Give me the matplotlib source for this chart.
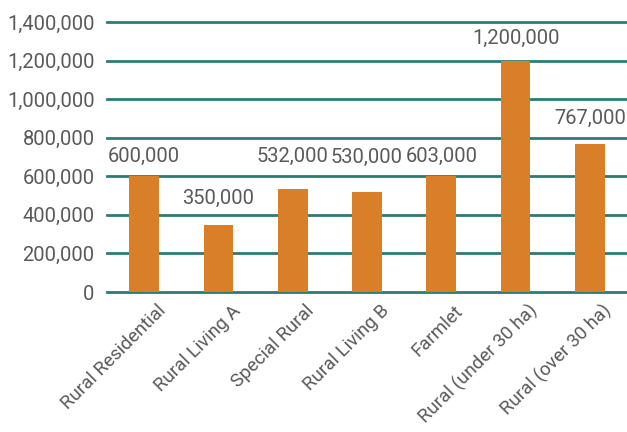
import matplotlib.pyplot as plt
from matplotlib.ticker import FuncFormatter
from matplotlib.transforms import ScaledTranslation

categories = ["Rural Residential", "Rural Living A", "Special Rural", "Rural Living B",
              "Farmlet", "Rural (under 30 ha)", "Rural (over 30 ha)"]
values = [600000, 350000, 532000, 520000, 603000, 1200000, 767000]
labels = ["600,000", "350,000", "532,000", "530,000", "603,000", "1,200,000", "767,000"]
yticks = [0, 200000, 400000, 600000, 800000, 1000000, 1200000, 1400000]

# gap (px) between bar top and its label, as placed in the original
label_gap = [10, 17, 23, 25, 10, 13, 16]

bar_col = "#D97F28"
grid_col = "#2E7B72"
text_col = "#595959"

plt.rcParams['font.family'] = ['Roboto', 'DejaVu Sans']

fig = plt.figure(figsize=(6.27, 4.32), dpi=100)
ax = fig.add_axes([107/627, 1 - 292/432, 1 - 107/627, 270/432])

x = range(len(categories))
bars = ax.bar(x, values, width=0.4, color=bar_col, zorder=3)

# data labels above each bar
for b, lab, g in zip(bars, labels, label_gap):
    ax.annotate(lab, (b.get_x() + b.get_width()/2, b.get_height()),
                xytext=(0, g * 0.72), textcoords="offset points",
                ha="center", va="bottom", fontsize=14.5, color=text_col)

ax.set_ylim(0, 1400000)
ax.set_xlim(-0.5, len(categories) - 0.5)
ax.set_yticks(yticks)
ax.yaxis.set_major_formatter(FuncFormatter(lambda v, p: f"{int(v):,}"))
for y in yticks:
    ax.axhline(y, color=grid_col, lw=2, zorder=2, clip_on=False)

ax.set_xticks(list(x))
ax.tick_params(length=0, labelsize=14.5, colors=text_col)
ax.tick_params(axis="y", pad=9)
ax.tick_params(axis="x", pad=0, labelsize=13.5)
ax.set_xticklabels(categories, rotation=45, ha="right", va="center", rotation_mode="anchor")
# shift rotated labels so their ends sit right/below the tick, like Excel
shift = ScaledTranslation(19/100, -16/100, fig.dpi_scale_trans)
for t in ax.get_xticklabels():
    t.set_transform(t.get_transform() + shift)
for s in ax.spines.values():
    s.set_visible(False)

fig.savefig("out.png", dpi=100)
